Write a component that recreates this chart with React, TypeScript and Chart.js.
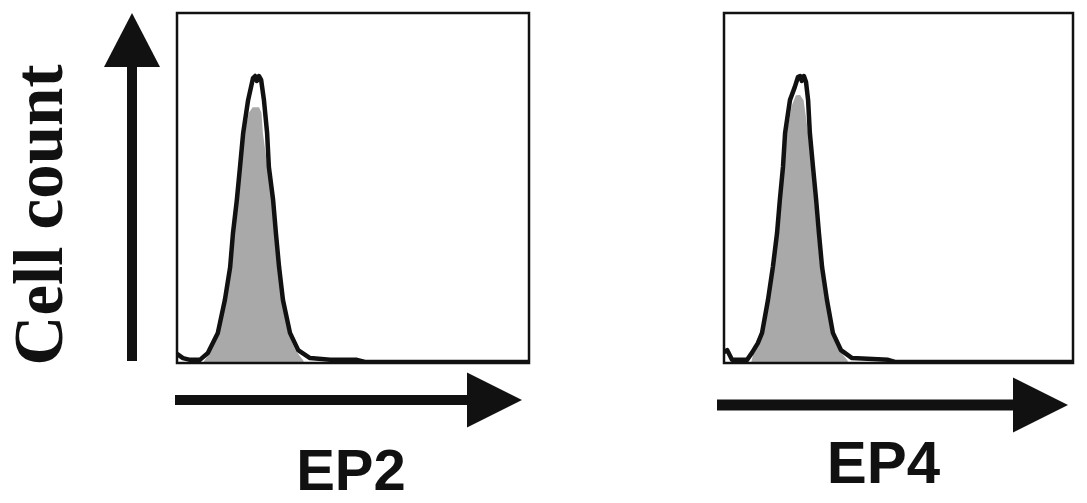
import React, { useEffect, useRef } from "react";
import { Chart, registerables } from "chart.js";

Chart.register(...registerables);

// Channel axis (percent of full fluorescence range) and cell count (percent of max scale)
const X_MIN = 0;
const X_MAX = 100;
const Y_MIN = 0;
const Y_MAX = 100;

const Y_TITLE = "Cell count";

// EP2 panel
const EP2_LABEL = "EP2";
const EP2_LINE_X = [0, 1.7, 3.7, 6.5, 8.8, 11.6, 13.6, 15.1, 15.9, 17.0, 17.9, 18.8, 20.2, 21.6, 22.2, 22.7, 23.3, 23.9, 24.7, 25.6, 26.1, 27.3, 28.1, 29.0, 30.1, 32.1, 34.4, 37.8, 43.5, 51.1, 53.4, 100];
const EP2_LINE_Y = [2.6, 1.4, 0.9, 0.9, 2.9, 8.6, 18.0, 27.4, 37.1, 46.6, 56.0, 65.7, 75.1, 81.4, 82.0, 80.6, 82.0, 80.9, 75.1, 65.7, 56.0, 46.6, 37.1, 27.4, 18.0, 8.6, 3.7, 1.4, 0.9, 0.9, 0.3, 0.3];
const EP2_FILL_X = [7.5, 9.3, 12.0, 14.0, 15.5, 16.3, 17.4, 18.3, 19.2, 20.4, 21.5, 23.3, 24.0, 24.4, 25.7, 26.9, 27.7, 28.6, 29.7, 31.6, 33.6, 36.0];
const EP2_FILL_Y = [0.3, 2.9, 8.6, 18.0, 27.4, 37.1, 46.6, 56.0, 65.7, 71.5, 73.1, 73.1, 71.5, 65.7, 56.0, 46.6, 37.1, 27.4, 18.0, 8.6, 3.7, 0.6];

// EP4 panel
const EP4_LABEL = "EP4";
const EP4_LINE_X = [0, 0.9, 2.3, 6.6, 8.0, 9.7, 10.9, 12.6, 14.0, 15.2, 16.0, 16.9, 17.5, 18.9, 20.3, 21.2, 21.8, 22.3, 22.9, 23.5, 24.1, 24.6, 25.5, 26.4, 27.2, 28.1, 29.5, 31.2, 33.5, 36.7, 47.0, 49.0, 100];
const EP4_LINE_Y = [3.1, 3.7, 0.9, 0.9, 2.9, 5.7, 8.6, 18.0, 27.4, 37.1, 46.6, 56.0, 65.7, 75.1, 78.9, 81.7, 82.0, 80.6, 82.0, 80.3, 75.1, 65.7, 56.0, 46.6, 37.1, 27.4, 18.0, 8.6, 3.7, 1.4, 0.9, 0.3, 0.3];
const EP4_FILL_X = [7.8, 8.5, 11.3, 13.0, 14.4, 15.6, 16.4, 17.3, 18.0, 19.4, 20.6, 21.8, 22.8, 23.6, 24.1, 25.0, 25.9, 26.7, 27.6, 29.0, 30.7, 33.0, 35.5];
const EP4_FILL_Y = [0.3, 2.9, 8.6, 18.0, 27.4, 37.1, 46.6, 56.0, 65.7, 73.5, 76.5, 76.6, 75.1, 69.4, 65.7, 56.0, 46.6, 37.1, 27.4, 18.0, 8.6, 3.7, 0.6];

const INK = "#111111";
const GRAY = "#a9a9a9";

function toPoints(xs: number[], ys: number[]) {
  return xs.map((x, i) => ({ x, y: ys[i] }));
}

type PanelProps = {
  canvasLeft: number;
  canvasWidth: number;
  padding: { left: number; right: number; top: number; bottom: number };
  lineX: number[];
  lineY: number[];
  fillX: number[];
  fillY: number[];
  label: string;
  labelDx: number;
  labelDy: number;
  labelSize: number;
  arrowDy: number;
  arrowStart: number;
  arrowTip: number;
  shaft: number;
  yTitle?: string;
};

function Panel(p: PanelProps) {
  const ref = useRef<HTMLCanvasElement | null>(null);

  useEffect(() => {
    const canvas = ref.current;
    if (!canvas) return;

    const decor = {
      id: "decor",
      afterDraw(chart: any) {
        const { ctx, chartArea: a } = chart;
        ctx.save();
        // frame
        ctx.strokeStyle = INK;
        ctx.lineWidth = 2.5;
        ctx.strokeRect(a.left, a.top, a.right - a.left, a.bottom - a.top);

        // horizontal arrow
        ctx.fillStyle = INK;
        const y = a.bottom + p.arrowDy;
        const x0 = a.left + p.arrowStart;
        const tip = a.right + p.arrowTip;
        const base = tip - 55;
        ctx.fillRect(x0, y - p.shaft / 2, base - x0 + 1, p.shaft);
        ctx.beginPath();
        ctx.moveTo(base, y - 27.5);
        ctx.lineTo(tip, y);
        ctx.lineTo(base, y + 27.5);
        ctx.closePath();
        ctx.fill();

        // axis label
        ctx.font = `bold ${p.labelSize}px "Liberation Sans", Arial, sans-serif`;
        ctx.textAlign = "center";
        ctx.textBaseline = "alphabetic";
        ctx.fillText(p.label, (a.left + a.right) / 2 + p.labelDx, a.bottom + p.labelDy);

        if (p.yTitle) {
          // vertical arrow
          const vx = a.left - 45;
          const vTip = a.top;
          const vBase = vTip + 54;
          ctx.fillRect(vx - 5, vBase - 1, 10, a.bottom - 1 - vBase);
          ctx.beginPath();
          ctx.moveTo(vx - 28, vBase);
          ctx.lineTo(vx, vTip);
          ctx.lineTo(vx + 28, vBase);
          ctx.closePath();
          ctx.fill();

          // y title
          ctx.save();
          ctx.translate(a.left - 115, 215);
          ctx.rotate(-Math.PI / 2);
          ctx.font = `bold 69px "Liberation Serif", "Times New Roman", serif`;
          ctx.textAlign = "center";
          ctx.textBaseline = "alphabetic";
          ctx.fillText(p.yTitle, 0, 0);
          ctx.restore();
        }
        ctx.restore();
      },
    };

    const chart = new Chart(canvas, {
      type: "line",
      data: {
        datasets: [
          {
            data: toPoints(p.lineX, p.lineY),
            borderColor: INK,
            borderWidth: 4.5,
            pointRadius: 0,
            fill: false,
            tension: 0,
            borderJoinStyle: "round",
          },
          {
            data: toPoints(p.fillX, p.fillY),
            borderColor: GRAY,
            borderWidth: 0,
            backgroundColor: GRAY,
            pointRadius: 0,
            fill: "origin",
            tension: 0,
          },
        ],
      },
      options: {
        responsive: false,
        animation: false,
        events: [],
        devicePixelRatio: 1,
        layout: { padding: p.padding },
        plugins: {
          legend: { display: false },
          tooltip: { enabled: false },
          title: { display: false },
        },
        scales: {
          x: { type: "linear", min: X_MIN, max: X_MAX, display: false },
          y: { type: "linear", min: Y_MIN, max: Y_MAX, display: false },
        },
      },
      plugins: [decor],
    } as any);

    return () => chart.destroy();
  }, []);

  return (
    <canvas
      ref={ref}
      width={p.canvasWidth}
      height={503}
      style={{
        position: "absolute",
        left: p.canvasLeft,
        top: 0,
        width: p.canvasWidth,
        height: 503,
        display: "block",
      }}
    />
  );
}

export default function App() {
  return (
    <div
      style={{
        position: "fixed",
        left: 0,
        top: 0,
        width: 1087,
        height: 503,
        background: "#ffffff",
        overflow: "hidden",
      }}
    >
      <Panel
        canvasLeft={0}
        canvasWidth={620}
        padding={{ left: 177, right: 91, top: 13, bottom: 140 }}
        lineX={EP2_LINE_X}
        lineY={EP2_LINE_Y}
        fillX={EP2_FILL_X}
        fillY={EP2_FILL_Y}
        label={EP2_LABEL}
        labelDx={-2}
        labelDy={127}
        labelSize={58}
        arrowDy={37}
        arrowStart={-2}
        arrowTip={-7}
        shaft={10}
        yTitle={Y_TITLE}
      />
      <Panel
        canvasLeft={620}
        canvasWidth={467}
        padding={{ left: 104, right: 14, top: 13, bottom: 140 }}
        lineX={EP4_LINE_X}
        lineY={EP4_LINE_Y}
        fillX={EP4_FILL_X}
        fillY={EP4_FILL_Y}
        label={EP4_LABEL}
        labelDx={-15}
        labelDy={120}
        labelSize={60}
        arrowDy={42}
        arrowStart={-7}
        arrowTip={-5}
        shaft={11}
      />
    </div>
  );
}
